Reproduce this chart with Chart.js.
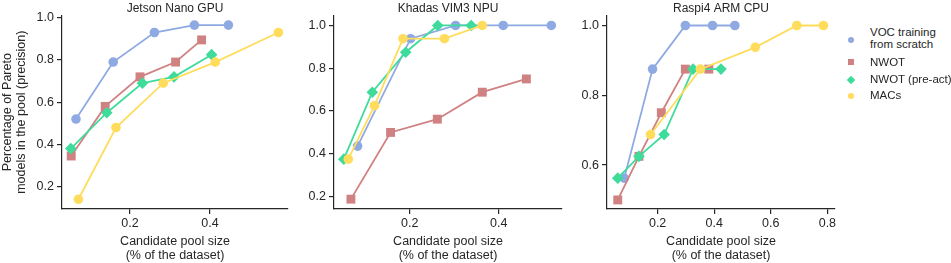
<!DOCTYPE html>
<html>
<head>
<meta charset="utf-8">
<script src="https://cdn.jsdelivr.net/npm/chart.js@4/dist/chart.umd.min.js"></script>
<style>
  html, body { margin: 0; padding: 0; background: #fff; }
  #wrap { position: relative; width: 951px; height: 263px; overflow: hidden; }
  #wrap canvas { position: absolute; top: 0; }
  .leg { position: absolute; font: 11.5px 'Liberation Sans', Arial, sans-serif; color: #262626; line-height: 12px; white-space: nowrap; }
  .mk { position: absolute; width: 6px; height: 6px; }
</style>
</head>
<body>
<div id="wrap">
  <canvas id="jetson" width="300" height="263" style="left:0px"></canvas>
  <canvas id="khadas" width="270" height="263" style="left:300px"></canvas>
  <canvas id="raspi" width="280" height="263" style="left:570px"></canvas>
</div>
<script>
// series names
const seriesNames = ["VOC training from scratch", "NWOT", "NWOT (pre-act)", "MACs"];

// Jetson Nano GPU
const jetsonVocX = [0.065, 0.158, 0.261, 0.361, 0.446];
const jetsonVocY = [0.52, 0.79, 0.93, 0.965, 0.965];
const jetsonNwotX = [0.053, 0.138, 0.225, 0.314, 0.379];
const jetsonNwotY = [0.345, 0.58, 0.72, 0.79, 0.895];
const jetsonPreX = [0.052, 0.142, 0.231, 0.31, 0.404];
const jetsonPreY = [0.38, 0.55, 0.69, 0.72, 0.825];
const jetsonMacsX = [0.071, 0.165, 0.283, 0.413, 0.571];
const jetsonMacsY = [0.14, 0.48, 0.69, 0.79, 0.93];

// Khadas VIM3 NPU
const khadasVocX = [0.083, 0.202, 0.303, 0.41, 0.518];
const khadasVocY = [0.436, 0.938, 1, 1, 1];
const khadasNwotX = [0.068, 0.157, 0.262, 0.363, 0.462];
const khadasNwotY = [0.188, 0.5, 0.562, 0.688, 0.75];
const khadasPreX = [0.052, 0.116, 0.191, 0.263, 0.338];
const khadasPreY = [0.375, 0.688, 0.875, 1, 1];
const khadasMacsX = [0.062, 0.121, 0.185, 0.278, 0.363];
const khadasMacsY = [0.375, 0.625, 0.938, 0.938, 1];

// Raspi4 ARM CPU
const raspiVocX = [0.082, 0.182, 0.298, 0.394, 0.473];
const raspiVocY = [0.5625, 0.875, 1, 1, 1];
const raspiNwotX = [0.059, 0.134, 0.213, 0.298, 0.381];
const raspiNwotY = [0.5, 0.625, 0.75, 0.875, 0.875];
const raspiPreX = [0.059, 0.134, 0.223, 0.325, 0.424];
const raspiPreY = [0.5625, 0.625, 0.6875, 0.875, 0.875];
const raspiMacsX = [0.175, 0.351, 0.545, 0.692, 0.786];
const raspiMacsY = [0.6875, 0.875, 0.9375, 1, 1];

// tick labels
const ticksX1 = [0.2, 0.4];
const ticksX3 = [0.2, 0.4, 0.6, 0.8];
const ticksY1 = [0.2, 0.4, 0.6, 0.8, 1.0];
const ticksY3 = [0.6, 0.8, 1.0];

const colors = ["#8faae2", "#d08282", "#3fdb9b", "#ffdc5c"];
const shapes = ["circle", "rect", "rectRot", "circle"];
const radii = [4.8, 6.3, 5.8, 4.8];
const axisColor = "#262626";

Chart.defaults.font.family = "'Liberation Sans', Arial, sans-serif";
Chart.defaults.color = axisColor;

const zip = (xs, ys) => xs.map((x, i) => ({ x, y: ys[i] }));

function makePanel(id, title, series, xr, yr, xt, yt, yW, padRight, yTitle) {
  new Chart(document.getElementById(id), {
    type: "line",
    data: {
      datasets: series.map((s, i) => ({
        label: seriesNames[i],
        data: zip(s[0], s[1]),
        borderColor: colors[i],
        backgroundColor: colors[i],
        pointBackgroundColor: colors[i],
        borderWidth: 1.8,
        pointStyle: shapes[i],
        pointRadius: radii[i],
        pointBorderWidth: 0,
        order: 3 - i,
        clip: false
      }))
    },
    options: {
      responsive: false,
      animation: false,
      layout: { padding: { left: 0, right: padRight, top: 0, bottom: 0 } },
      plugins: {
        legend: { display: false },
        tooltip: { enabled: false },
        title: {
          display: true,
          text: title,
          fullSize: false,
          font: { size: 12, weight: "normal" },
          color: axisColor,
          padding: { top: 1, bottom: 0 }
        }
      },
      scales: {
        x: {
          type: "linear",
          min: xr[0], max: xr[1],
          afterBuildTicks: s => { s.ticks = xt.map(v => ({ value: v })); },
          afterFit: s => { s.height = 54; },
          grid: { drawOnChartArea: false, drawTicks: true, tickLength: 5, color: axisColor, lineWidth: 1.2 },
          border: { display: true, color: axisColor, width: 1.2 },
          ticks: { padding: 2, font: { size: 12.5 }, callback: v => v.toFixed(1), maxRotation: 0 },
          title: {
            display: true,
            text: ["Candidate pool size", "(% of the dataset)"],
            font: { size: 12.5, lineHeight: 1.15 },
            padding: { top: 0, bottom: 0 }
          }
        },
        y: {
          type: "linear",
          min: yr[0], max: yr[1],
          afterBuildTicks: s => { s.ticks = yt.map(v => ({ value: v })); },
          afterFit: s => { s.width = yW; },
          grid: { drawOnChartArea: false, drawTicks: true, tickLength: 5, color: axisColor, lineWidth: 1.2 },
          border: { display: true, color: axisColor, width: 1.2 },
          ticks: { padding: 3, font: { size: 12.5 }, callback: v => v.toFixed(1) },
          title: {
            display: !!yTitle,
            text: yTitle || "",
            font: { size: 12.5, lineHeight: 1.1 },
            padding: { top: 1, bottom: 0 }
          }
        }
      }
    }
  });
}

makePanel("jetson", "Jetson Nano GPU",
  [[jetsonVocX, jetsonVocY], [jetsonNwotX, jetsonNwotY], [jetsonPreX, jetsonPreY], [jetsonMacsX, jetsonMacsY]],
  [0.03, 0.595], [0.094, 1.011], ticksX1, ticksY1, 62, 12,
  ["Percentage of Pareto", "models in the pool (precision)"]);

makePanel("khadas", "Khadas VIM3 NPU",
  [[khadasVocX, khadasVocY], [khadasNwotX, khadasNwotY], [khadasPreX, khadasPreY], [khadasMacsX, khadasMacsY]],
  [0.03, 0.542], [0.142, 1.047], ticksX1, ticksY1, 34, 8, null);

makePanel("raspi", "Raspi4 ARM CPU",
  [[raspiVocX, raspiVocY], [raspiNwotX, raspiNwotY], [raspiPreX, raspiPreY], [raspiMacsX, raspiMacsY]],
  [0.021, 0.827], [0.474, 1.029], ticksX3, ticksY3, 37, 15, null);

// legend
const wrap = document.getElementById("wrap");
const legRows = [
  { lines: ["VOC training", "from scratch"], textY: 26, markY: 40 },
  { lines: ["NWOT"], textY: 56, markY: 62 },
  { lines: ["NWOT (pre-act)"], textY: 73, markY: 80 },
  { lines: ["MACs"], textY: 89, markY: 96 }
];
legRows.forEach((r, i) => {
  const t = document.createElement("div");
  t.className = "leg";
  t.style.left = "870px";
  t.style.top = r.textY + "px";
  t.innerHTML = r.lines.join("<br>");
  wrap.appendChild(t);
  const m = document.createElement("div");
  m.className = "mk";
  m.style.background = colors[i];
  m.style.left = "848px";
  m.style.top = (r.markY - 3) + "px";
  if (shapes[i] === "circle") m.style.borderRadius = "50%";
  if (shapes[i] === "rectRot") m.style.transform = "rotate(45deg)";
  wrap.appendChild(m);
});
</script>
</body>
</html>
